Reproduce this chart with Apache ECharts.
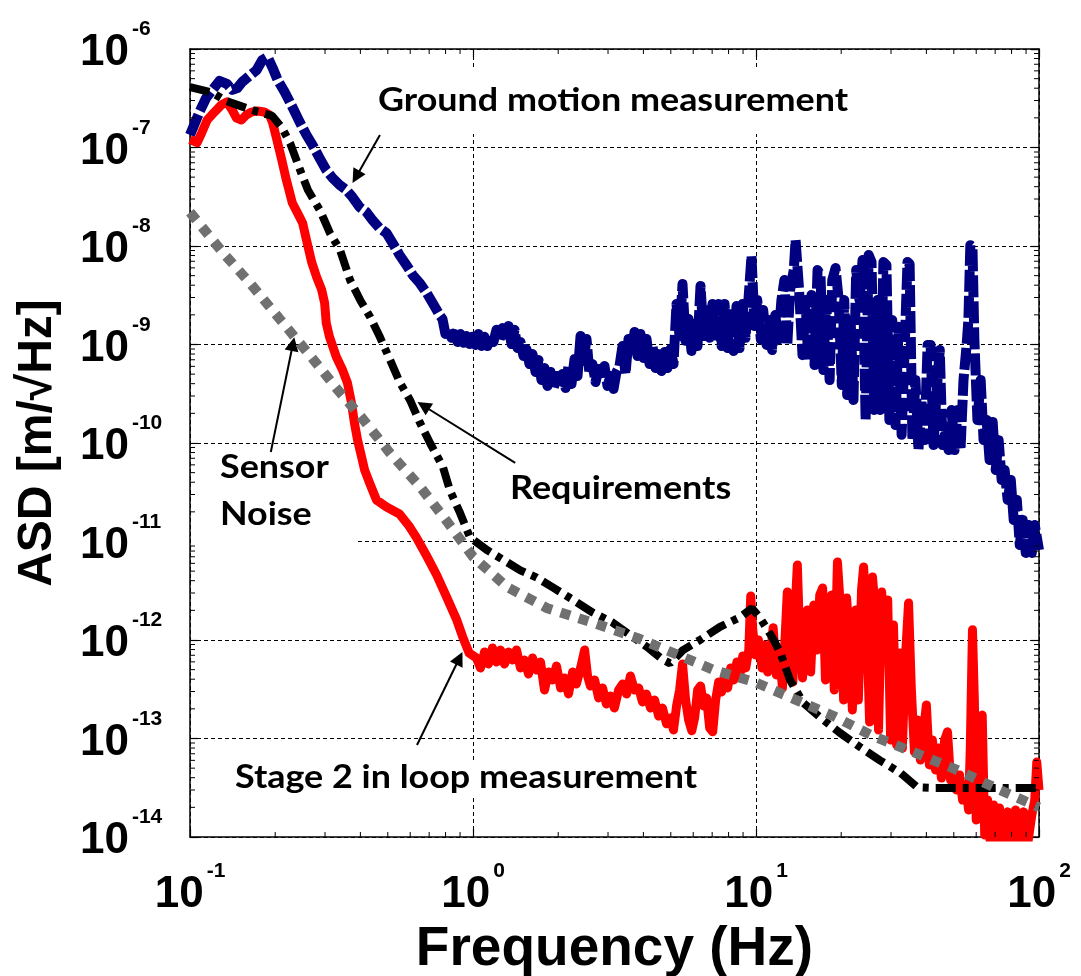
<!DOCTYPE html>
<html>
<head>
<meta charset="utf-8">
<script src="https://cdn.jsdelivr.net/npm/echarts@6/dist/echarts.min.js"></script>
<style>
  html, body { margin: 0; padding: 0; background: #fff; }
  #chart { width: 1081px; height: 976px; }
</style>
</head>
<body>
<div id="chart"></div>
<script>
// Decade exponents that carry tick labels on each axis
const xTickExponents = [-1, 0, 1, 2];
const yTickExponents = [-14, -13, -12, -11, -10, -9, -8, -7, -6];
const minorSteps = [2, 3, 4, 5, 6, 7, 8, 9];

// Amplitude spectral densities, [frequency Hz, ASD m/sqrt(Hz)]
const groundMotion = [
  [0.100,1.34e-7],[0.108,2.29e-7],[0.114,3.18e-7],[0.120,3.84e-7],[0.127,4.74e-7],[0.135,4.42e-7],[0.141,3.84e-7],
  [0.147,4.02e-7],[0.153,4.63e-7],[0.162,5.32e-7],[0.172,6.12e-7],[0.180,7.73e-7],[0.188,8.30e-7],[0.196,6.41e-7],
  [0.204,4.85e-7],[0.216,3.66e-7],[0.230,2.58e-7],[0.244,1.82e-7],[0.258,1.34e-7],[0.271,1.06e-7],[0.287,7.82e-8],
  [0.303,5.91e-8],[0.319,4.90e-8],[0.338,4.16e-8],[0.357,3.70e-8],[0.375,3.14e-8],[0.397,2.49e-8],[0.420,2.21e-8],
  [0.441,1.84e-8],[0.467,1.52e-8],[0.495,1.35e-8],[0.520,1.07e-8],[0.550,8.10e-9],[0.582,6.41e-9],[0.612,5.08e-9],
  [0.648,4.21e-9],[0.686,3.34e-9],[0.720,2.64e-9],[0.762,1.99e-9],
  [0.780,1.82e-9],[0.799,1.28e-9],[0.819,1.44e-9],[0.839,1.17e-9],[0.860,1.28e-9],[0.882,1.06e-9],[0.903,1.28e-9],
  [0.926,1.04e-9],[0.949,1.22e-9],[0.972,1.01e-9],[0.996,1.20e-9],[1.020,9.9e-10],[1.046,1.28e-9],[1.072,9.66e-10],
  [1.098,1.20e-9],[1.125,9.66e-10],[1.153,1.22e-9],[1.181,1.06e-9],[1.211,1.41e-9],[1.240,1.12e-9],[1.271,1.47e-9],
  [1.302,1.09e-9],[1.335,1.54e-9],[1.368,1.01e-9],[1.402,1.41e-9],[1.436,9.2e-10],[1.472,1.06e-9],[1.508,7.64e-10],
  [1.545,9.0e-10],[1.583,6.34e-10],[1.623,8.0e-10],[1.663,5.26e-10],[1.704,6.96e-10],[1.746,4.36e-10],[1.789,5.77e-10],
  [1.833,3.80e-10],[1.879,5.26e-10],[1.925,3.54e-10],[1.973,4.79e-10],[2.022,3.62e-10],[2.072,5.02e-10],[2.123,3.62e-10],
  [2.175,6.05e-10],[2.229,3.97e-10],[2.284,7.13e-10],[2.341,4.79e-10],[2.399,1.22e-9],[2.458,6.80e-10],[2.518,1.14e-9],
  [2.580,5.02e-10],[2.644,6.34e-10],[2.710,4.16e-10],[2.776,5.64e-10],[2.845,4.57e-10],[2.915,6.05e-10],[2.987,3.80e-10],
  [3.061,4.79e-10],[3.137,3.54e-10],[3.214,5.26e-10],[3.294,6.05e-10],[3.375,9.66e-10],[3.458,5.02e-10],[3.544,1.14e-9],
  [3.631,7.64e-10],[3.721,1.34e-9],[3.813,7.64e-10],[3.907,1.28e-9],[4.004,7.29e-10],[4.103,1.14e-9],[4.204,6.34e-10],
  [4.308,9.66e-10],[4.414,5.77e-10],[4.523,8.0e-10],[4.635,5.38e-10],[4.750,8.39e-10],[4.867,5.77e-10],[4.987,9.0e-10],
  [5.110,6.34e-10],[5.237,2.58e-9],[5.366,1.22e-9],[5.499,4.12e-9],[5.635,1.09e-9],[5.774,1.82e-9],[5.917,8.59e-10],
  [6.063,1.62e-9],[6.213,9.66e-10],[6.367,3.93e-9],[6.524,1.22e-9],[6.686,2.58e-9],[6.851,1.17e-9],[7.020,2.58e-9],
  [7.194,1.09e-9],[7.372,2.58e-9],[7.554,9.66e-10],[7.741,2.58e-9],[7.932,9.2e-10],[8.128,2.29e-9],[8.329,8.59e-10],
  [8.535,2.46e-9],[8.746,9.2e-10],[8.962,2.58e-9],[9.183,1.17e-9],[9.409,2.90e-9],[9.641,7.92e-9],[9.879,1.54e-9],
  [10.1,2.83e-9],[10.4,1.12e-9],[10.6,2.24e-9],
  [10.9,9.9e-10],[11.2,1.77e-9],[11.4,8.8e-10],[11.7,1.99e-9],[12.0,1.12e-9],[12.3,2.83e-9],[12.6,4.52e-9],
  [12.9,9.9e-10],[13.2,3.58e-9],[13.6,5.71e-9],[13.8,1.15e-8],[14.0,1.10e-8],[14.2,3.58e-9],[14.6,7.8e-10],
  [14.96,2.83e-9],[15.3,6.96e-10],[15.7,3.18e-9],[16.1,6.19e-10],[16.5,5.71e-9],[16.9,5.08e-9],[17.3,5.5e-10],
  [17.7,2.83e-9],[18.2,4.36e-10],[18.6,4.52e-9],[19.1,5.98e-9],[19.6,2.83e-9],[20.1,3.88e-10],[20.5,2.83e-9],
  [21.0,3.07e-10],[21.6,1.77e-9],[22.1,2.73e-10],[22.6,5.71e-9],[23.2,2.83e-9],[23.8,7.21e-9],[24.4,1.71e-10],
  [25.0,8.10e-9],[25.6,6.88e-9],[26.2,2.16e-10],[26.9,2.83e-9],[27.5,2.16e-10],[28.2,6.88e-9],[28.9,6.41e-9],
  [29.6,1.71e-10],[30.3,1.77e-9],[31.1,1.52e-10],[31.9,1.51e-9],[32.7,1.21e-10],[33.5,8.8e-10],[34.3,6.88e-9],
  [34.9,6.57e-9],[35.7,1.07e-10],[36.6,4.36e-10],[37.5,8.49e-11],[38.4,2.73e-10],[39.4,1.07e-10],[40.4,9.9e-10],
  [41.4,9.9e-10],[42.4,9.54e-11],[43.5,3.45e-10],[44.6,8.8e-10],[45.6,9.54e-11],[46.8,1.35e-10],[47.9,8.49e-11],
  [49.1,2.16e-10],[50.3,8.49e-11],[51.6,2.16e-10],[52.8,8.49e-11],[54.1,4.36e-10],[55.5,9.9e-10],[56.3,1.77e-9],
  [57.2,1.02e-8],[58.2,9.77e-9],[59.1,1.12e-9],[60.6,1.71e-10],[62.2,4.36e-10],[63.7,1.07e-10],[65.3,1.71e-10],
  [66.9,6.72e-11],[68.6,1.63e-10],[70.3,5.32e-11],[72.0,1.07e-10],[73.8,4.21e-11],[75.6,5.32e-11],[77.5,2.64e-11],
  [79.5,4.21e-11],[81.4,1.65e-11],[83.5,2.64e-11],[85.5,9.2e-12],[87.6,1.65e-11],[89.8,7.65e-12],[92.0,1.47e-11],
  [94.3,7.65e-12],[96.6,1.47e-11],[100,8.2e-12]
];

const requirements = [
  [0.1,4.1e-7],[0.12,3.6e-7],[0.133,3.0e-7],[0.153,2.6e-7],[0.174,2.3e-7],[0.195,2.1e-7],[0.211,1.6e-7],
  [0.226,1.1e-7],[0.245,5.9e-8],[0.261,3.7e-8],[0.288,2.3e-8],[0.312,1.36e-8],[0.339,9.1e-9],[0.368,4.5e-9],
  [0.40,2.8e-9],[0.433,1.9e-9],[0.469,1.19e-9],[0.509,7.0e-10],[0.552,4.1e-10],[0.60,2.7e-10],[0.65,1.6e-10],
  [0.705,1.0e-10],[0.783,5.7e-11],[0.829,3.3e-11],[0.90,1.95e-11],[0.976,1.1e-11],[1.12,8.2e-12],[1.28,6.5e-12],
  [1.47,5.1e-12],[1.68,4.3e-12],[1.92,3.4e-12],[2.26,2.55e-12],[2.65,1.9e-12],[3.12,1.5e-12],[3.68,1.07e-12],
  [4.12,8.5e-13],[4.69,6.3e-13],[4.97,5.8e-13],[5.52,7.9e-13],[6.34,1.0e-12],[7.46,1.36e-12],[8.78,1.7e-12],
  [9.68,2.1e-12],[10.3,1.7e-12],[11.4,1.07e-12],[12.2,7.4e-13],[13.2,3.9e-13],[14.7,2.3e-13],[16.8,1.65e-13],
  [19.8,1.14e-13],[23.3,8.2e-14],[27.4,6.0e-14],[32.3,4.5e-14],[37.1,3.2e-14],[42.2,3.15e-14],[100,3.15e-14]
];

const sensorNoise = [
  [0.1,2.2e-8],[0.131,8.5e-9],[0.163,4.2e-9],[0.208,1.8e-9],[0.265,7.8e-10],[0.333,3.45e-10],[0.405,1.8e-10],
  [0.509,7.9e-11],[0.65,3.6e-11],[0.809,1.6e-11],[1.0,7.0e-12],[1.32,3.45e-12],[1.83,2.1e-12],[2.65,1.5e-12],
  [3.8,1.05e-12],[5.09,7.4e-13],[7.05,5.0e-13],[10,3.7e-13],[13.7,2.5e-13],[18.7,1.7e-13],[25.9,1.06e-13],
  [35.9,7.3e-14],[51.3,4.8e-14],[72.8,3.0e-14],[100,2.0e-14]
];

const stage2InLoop = [
  [0.100,1.20e-7],[0.106,1.12e-7],[0.110,1.41e-7],[0.115,1.90e-7],[0.122,2.29e-7],[0.129,2.70e-7],[0.135,2.90e-7],
  [0.141,2.40e-7],[0.146,1.99e-7],[0.152,1.90e-7],[0.158,2.14e-7],[0.165,2.29e-7],[0.173,2.35e-7],[0.183,2.29e-7],
  [0.191,2.14e-7],[0.196,1.77e-7],[0.202,1.25e-7],[0.211,7.47e-8],[0.219,4.68e-8],[0.230,2.73e-8],[0.240,2.16e-8],
  [0.250,1.71e-8],[0.258,1.15e-8],[0.269,6.88e-9],[0.280,4.85e-9],[0.292,3.58e-9],[0.299,2.64e-9],[0.303,1.65e-9],
  [0.311,1.20e-9],[0.329,7.47e-10],[0.346,5.51e-10],[0.360,4.07e-10],[0.372,2.55e-10],[0.381,1.60e-10],[0.391,1.07e-10],
  [0.404,7.21e-11],[0.414,5.32e-11],[0.431,3.93e-11],[0.456,2.64e-11],[0.495,2.24e-11],[0.550,1.90e-11],[0.597,1.41e-11],
  [0.632,1.09e-11],[0.686,7.12e-12],[0.744,4.57e-12],[0.807,2.73e-12],[0.876,1.60e-12],[0.920,1.07e-12],[0.969,7.38e-13],
  [1.029,6.57e-13],[1.063,5.20e-13],[1.098,7.56e-13],[1.134,5.71e-13],[1.172,8.30e-13],[1.211,5.98e-13],[1.251,7.92e-13],
  [1.292,5.71e-13],[1.335,7.56e-13],[1.379,6.27e-13],[1.425,7.92e-13],[1.472,5.20e-13],[1.520,6.27e-13],[1.571,4.52e-13],
  [1.623,6.57e-13],[1.676,4.96e-13],[1.732,5.98e-13],[1.789,3.11e-13],[1.848,4.74e-13],[1.909,3.93e-13],[1.973,5.45e-13],
  [2.04,3.26e-13],[2.105,4.12e-13],[2.175,2.83e-13],[2.25,4.74e-13],[2.32,3.58e-13],[2.40,5.20e-13],[2.48,7.92e-13],
  [2.54,4.31e-13],[2.60,3.41e-13],[2.69,3.93e-13],[2.78,2.58e-13],[2.87,3.26e-13],[2.96,2.24e-13],[3.06,2.70e-13],
  [3.16,2.04e-13],[3.27,3.11e-13],[3.38,3.58e-13],[3.49,2.83e-13],[3.60,4.31e-13],[3.72,3.11e-13],[3.85,3.26e-13],
  [3.97,2.35e-13],[4.10,2.83e-13],[4.24,2.04e-13],[4.38,2.46e-13],[4.53,1.69e-13],[4.67,2.04e-13],[4.83,1.41e-13],
  [4.99,1.62e-13],[5.11,1.22e-13],[5.24,2.14e-13],[5.37,3.11e-13],[5.50,5.71e-13],[5.64,2.46e-13],[5.78,1.54e-13],
  [5.93,1.20e-13],[6.07,1.62e-13],[6.22,3.11e-13],[6.37,3.41e-13],[6.53,2.14e-13],[6.69,2.58e-13],[6.86,1.28e-13],
  [7.03,1.17e-13],[7.20,2.46e-13],[7.38,3.75e-13],[7.56,2.97e-13],[7.75,4.31e-13],[7.94,3.26e-13],[8.14,5.20e-13],
  [8.35,3.93e-13],[8.56,5.98e-13],[8.76,4.31e-13],[8.98,6.88e-13],[9.20,5.20e-13],[9.43,7.92e-13],[9.58,2.80e-12],
  [9.74,1.27e-12],[9.96,7.04e-13],[10.2,1.0e-12],[10.5,5.20e-13],[10.7,8.90e-13],[11.0,4.74e-13],[11.3,7.92e-13],
  [11.5,1.33e-12],[11.8,4.42e-13],[12.1,7.92e-13],[12.4,3.26e-13],[12.7,1.21e-12],[12.9,3.07e-12],[13.1,1.0e-12],
  [13.5,3.75e-13],[13.8,2.55e-12],[14.0,5.77e-12],[14.2,1.60e-12],[14.6,4.12e-13],[15.0,1.0e-12],[15.2,2.02e-12],
  [15.6,4.74e-13],[16.0,2.26e-12],[16.4,7.92e-13],[16.8,2.86e-12],[17.2,3.37e-12],[17.6,3.93e-13],[18.0,2.26e-12],
  [18.5,2.86e-12],[18.9,3.11e-13],[19.4,6.19e-12],[19.9,2.02e-12],[20.4,2.46e-13],[20.9,2.67e-12],[21.4,1.0e-12],
  [21.9,1.95e-13],[22.5,2.02e-12],[23.0,2.46e-13],[23.6,3.22e-12],[24.0,5.51e-12],[24.6,1.60e-12],[25.2,1.47e-13],
  [25.8,4.36e-12],[26.4,2.02e-12],[27.1,1.22e-13],[27.8,3.07e-12],[28.5,1.0e-12],[29.2,2.55e-12],[29.9,9.65e-14],
  [30.6,1.42e-12],[31.4,8.59e-14],[32.2,7.38e-13],[32.9,8.01e-14],[33.7,6.27e-13],[34.6,2.37e-12],[35.4,3.11e-13],
  [36.3,7.29e-14],[37.2,1.54e-13],[38.1,6.05e-14],[39.1,1.22e-13],[40.0,2.19e-13],[41.0,5.38e-14],[42.0,9.65e-14],
  [43.1,4.79e-14],[44.1,8.01e-14],[45.2,3.97e-14],[46.4,9.65e-14],[47.5,1.17e-13],[48.7,3.79e-14],[49.9,4.79e-14],
  [51.1,3.00e-14],[52.4,4.26e-14],[53.7,2.37e-14],[55.0,3.37e-14],[56.4,1.88e-14],[57.2,8.59e-14],[58.2,1.27e-12],
  [59.1,2.46e-13],[60.0,1.49e-14],[61.5,1.54e-13],[63.0,1.73e-13],[64.3,1.05e-14],[65.8,2.37e-14],[67.4,8.3e-15],
  [69.1,2.11e-14],[70.7,8.3e-15],[72.5,1.97e-14],[74.9,8.3e-15],[77.5,1.80e-14],[80.0,8.3e-15],[82.6,1.88e-14],
  [85.5,8.3e-15],[88.2,1.80e-14],[91.1,8.3e-15],[94.3,1.67e-14],[96.6,2.37e-14],[98.2,5.77e-14],[100,3.0e-14]
];

// Callout texts and the arrows that point from them to the curves
const noteTexts = [
  { text: 'Ground motion measurement', x: 378, y: 101 },
  { text: 'Requirements', x: 510, y: 489 },
  { text: 'Sensor', x: 220, y: 468 },
  { text: 'Noise', x: 220, y: 515 },
  { text: 'Stage 2 in loop measurement', x: 235, y: 778 }
];
const noteBacks = [
  [370, 70, 490, 64], [500, 470, 240, 40], [191, 444, 167, 104], [225, 760, 480, 38]
];
const noteArrows = [
  { from: [0.469, 1.34e-7], to: [0.386, 5.03e-8] },
  { from: [0.193, 8.1e-11], to: [0.231, 1.01e-9] },
  { from: [1.41, 6.27e-11], to: [0.668, 2.39e-10] },
  { from: [0.634, 8.6e-14], to: [0.895, 6.52e-13] }
];

const AXIS_FONT = '"Liberation Sans", Arial, sans-serif';
const NOTE_FONT = 'Lato, "Open Sans", sans-serif';
const NOTE_SIZE = 32;

// minor (2..9 x decade) tick positions
const xMinor = [];
xTickExponents.slice(0, -1).forEach(e => minorSteps.forEach(m => xMinor.push(m * Math.pow(10, e))));
const yMinor = [];
yTickExponents.slice(0, -1).forEach(e => minorSteps.forEach(m => yMinor.push(m * Math.pow(10, e))));

function powerLabel(exps) {
  return function (v) {
    const e = Math.round(Math.log10(v));
    return exps.indexOf(e) >= 0 ? '{b|10}{s|' + e + '}' : '';
  };
}
const tickRich = {
  b: { fontFamily: AXIS_FONT, fontWeight: 'bold', fontSize: 44, lineHeight: 44, color: '#000', verticalAlign: 'bottom' },
  s: { fontFamily: AXIS_FONT, fontWeight: 'bold', fontSize: 21, lineHeight: 21, color: '#000', verticalAlign: 'bottom', padding: [0, 0, 35, 3] }
};

const frameLine = { show: true, lineStyle: { color: '#000', width: 1.5 } };
const majorTick = { show: true, inside: true, length: 8, lineStyle: { color: '#000', width: 1.2 } };
const gridDash = { show: true, lineStyle: { color: '#000', width: 1, type: [4, 3] } };

// horizontal squeeze of the callout font
const measureCtx = document.createElement('canvas').getContext('2d');
measureCtx.font = 'bold ' + NOTE_SIZE + 'px ' + NOTE_FONT;
const noteScale = 470 / measureCtx.measureText('Ground motion measurement').width;

const chart = echarts.init(document.getElementById('chart'), null, { renderer: 'canvas' });

function minorTickSeries(axis, values) {
  return {
    type: 'custom',
    coordinateSystem: 'cartesian2d',
    silent: true,
    clip: false,
    z: 4,
    data: values.map(v => axis === 'x' ? [v, 1e-10] : [1, v]),
    renderItem: function (params, api) {
      const cs = params.coordSys;
      const p = api.coord([api.value(0), api.value(1)]);
      const st = { stroke: '#000', lineWidth: 1 };
      if (axis === 'x') {
        const b = cs.y + cs.height;
        return { type: 'group', children: [
          { type: 'line', shape: { x1: p[0], y1: b, x2: p[0], y2: b - 5 }, style: st },
          { type: 'line', shape: { x1: p[0], y1: cs.y, x2: p[0], y2: cs.y + 5 }, style: st }
        ] };
      }
      const r = cs.x + cs.width;
      return { type: 'group', children: [
        { type: 'line', shape: { x1: cs.x, y1: p[1], x2: cs.x + 5, y2: p[1] }, style: st },
        { type: 'line', shape: { x1: r, y1: p[1], x2: r - 5, y2: p[1] }, style: st }
      ] };
    }
  };
}

const graphics = [];
noteBacks.forEach(b => graphics.push({
  type: 'rect', z: 1, silent: true,
  shape: { x: b[0], y: b[1], width: b[2], height: b[3] },
  style: { fill: '#fff' }
}));
noteTexts.forEach(n => graphics.push({
  type: 'text', z: 10, silent: true, x: n.x, y: n.y, scaleX: noteScale,
  style: { text: n.text, fill: '#000', font: 'bold ' + NOTE_SIZE + 'px ' + NOTE_FONT, align: 'left', verticalAlign: 'middle' }
}));

chart.setOption({
  animation: false,
  backgroundColor: '#fff',
  grid: { left: 190, top: 49, width: 849, height: 788, containLabel: false, outerBoundsMode: 'none' },
  xAxis: [
    {
      type: 'log', logBase: 10, min: 0.1, max: 100, splitNumber: 3, position: 'bottom',
      axisLine: frameLine, axisTick: majorTick, splitLine: gridDash, minorTick: { show: false },
      axisLabel: { formatter: powerLabel(xTickExponents), rich: tickRich, margin: 36, padding: [0, 0, 0, 0] },
      name: 'Frequency (Hz)', nameLocation: 'middle', nameGap: 84,
      nameTextStyle: { fontFamily: AXIS_FONT, fontWeight: 'bold', fontSize: 55, color: '#000' }
    },
    {
      type: 'log', logBase: 10, min: 0.1, max: 100, splitNumber: 3, position: 'top',
      axisLine: frameLine, axisTick: majorTick, splitLine: { show: false }, axisLabel: { show: false }
    }
  ],
  yAxis: [
    {
      type: 'log', logBase: 10, min: 1e-14, max: 1e-6, splitNumber: 8, position: 'left',
      axisLine: frameLine, axisTick: majorTick, splitLine: gridDash, minorTick: { show: false },
      axisLabel: { formatter: powerLabel(yTickExponents), rich: tickRich, margin: 110, align: 'left', padding: [8, 0, 0, 0] },
      name: 'ASD [m/\u221AHz]', nameLocation: 'middle', nameGap: 128, nameRotate: 90,
      nameTextStyle: { fontFamily: AXIS_FONT, fontWeight: 'bold', fontSize: 48, color: '#000' }
    },
    {
      type: 'log', logBase: 10, min: 1e-14, max: 1e-6, splitNumber: 8, position: 'right',
      axisLine: frameLine, axisTick: majorTick, splitLine: { show: false }, axisLabel: { show: false }
    }
  ],
  series: [
    minorTickSeries('x', xMinor),
    minorTickSeries('y', yMinor),
    {
      name: 'Ground motion measurement', type: 'line', data: groundMotion, showSymbol: false, z: 2,
      lineStyle: { color: '#000080', width: 10, type: [22, 4], cap: 'butt', join: 'round' }
    },
    {
      name: 'Stage 2 in loop measurement', type: 'line', data: stage2InLoop, showSymbol: false, z: 3,
      lineStyle: { color: '#ff0000', width: 9, type: 'solid', join: 'round' }
    },
    {
      name: 'Requirements', type: 'line', data: requirements, showSymbol: false, z: 4,
      lineStyle: { color: '#000000', width: 8, type: [20, 7, 6, 7], cap: 'butt' }
    },
    {
      name: 'Sensor Noise', type: 'line', data: sensorNoise, showSymbol: false, z: 5,
      lineStyle: { color: '#707070', width: 10, type: [10, 9], cap: 'butt' }
    },
    {
      name: 'callouts', type: 'line', data: [], z: 6, silent: true,
      markLine: {
        silent: true, animation: false, symbol: ['none', 'triangle'], symbolSize: 14,
        label: { show: false },
        lineStyle: { color: '#000', width: 2, type: 'solid' },
        emphasis: { disabled: true },
        data: noteArrows.map(a => [{ coord: a.from }, { coord: a.to }])
      }
    }
  ],
  graphic: graphics
});
</script>
</body>
</html>
